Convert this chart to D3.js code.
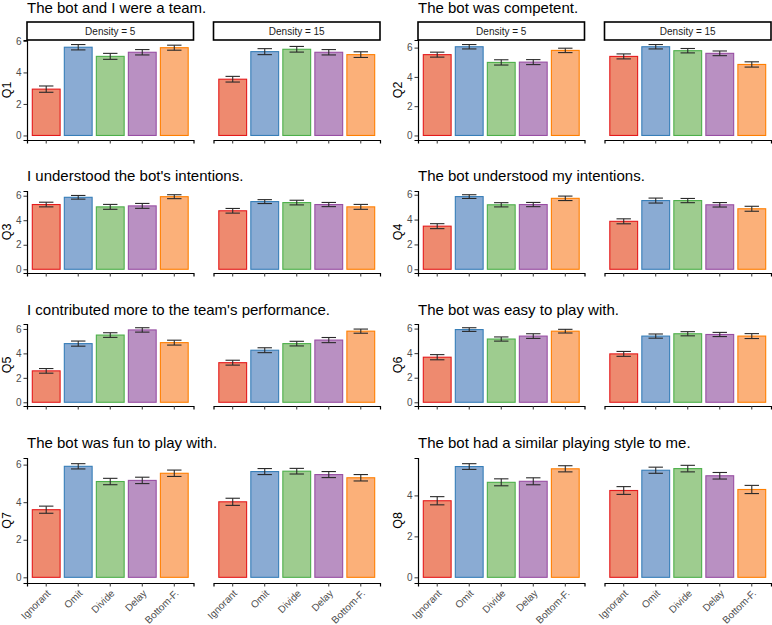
<!DOCTYPE html>
<html>
<head>
<meta charset="utf-8">
<script src="https://cdn.jsdelivr.net/npm/d3@7"></script>
<style>
  body { margin: 0; background: #fff; }
  svg { display: block; font-family: "Liberation Sans", Arial, sans-serif; }
  .axis path, .axis line { stroke: #000; }
  .axis line { stroke: #333; }
  .axis text { fill: #4d4d4d; font-size: 10px; font-family: "Liberation Sans", Arial, sans-serif; }
</style>
</head>
<body>
<div id="chart"></div>
<script>
// categories and facets
const categories = ["Ignorant", "Omit", "Divide", "Delay", "Bottom-F."];
const densities = [5, 15];
const questionLabels = ["Q1", "Q2", "Q3", "Q4", "Q5", "Q6", "Q7", "Q8"];
const questionTitles = [
    "The bot and I were a team.",
    "The bot was competent.",
    "I understood the bot's intentions.",
    "The bot understood my intentions.",
    "I contributed more to the team's performance.",
    "The bot was easy to play with.",
    "The bot was fun to play with.",
    "The bot had a similar playing style to me."
];

// mean scores, one row per question (Ignorant, Omit, Divide, Delay, Bottom-F.)
const meanD5 = [
    [2.94, 5.60, 5.02, 5.28, 5.57],
    [5.52, 6.06, 4.99, 5.01, 5.81],
    [5.28, 5.87, 5.09, 5.17, 5.92],
    [3.47, 5.85, 5.19, 5.21, 5.71],
    [2.57, 4.80, 5.50, 5.92, 4.88],
    [3.67, 5.92, 5.15, 5.39, 5.79],
    [3.60, 5.91, 5.10, 5.16, 5.54],
    [3.74, 5.41, 4.64, 4.69, 5.30]
];
const seD5 = [
    [0.20, 0.17, 0.19, 0.17, 0.16],
    [0.17, 0.15, 0.18, 0.17, 0.15],
    [0.19, 0.15, 0.20, 0.20, 0.16],
    [0.20, 0.15, 0.17, 0.17, 0.18],
    [0.19, 0.21, 0.19, 0.18, 0.20],
    [0.21, 0.15, 0.17, 0.19, 0.15],
    [0.19, 0.14, 0.17, 0.17, 0.17],
    [0.20, 0.14, 0.17, 0.17, 0.15]
];
const meanD15 = [
    [3.57, 5.32, 5.47, 5.28, 5.13],
    [5.40, 6.06, 5.79, 5.61, 4.85],
    [4.77, 5.52, 5.44, 5.28, 5.09],
    [3.86, 5.53, 5.53, 5.19, 4.87],
    [3.24, 4.26, 4.80, 5.09, 5.82],
    [3.94, 5.39, 5.58, 5.52, 5.39],
    [4.02, 5.63, 5.65, 5.47, 5.30],
    [4.24, 5.23, 5.31, 4.96, 4.29]
];
const seD15 = [
    [0.18, 0.19, 0.18, 0.17, 0.18],
    [0.17, 0.15, 0.15, 0.16, 0.18],
    [0.19, 0.16, 0.19, 0.17, 0.20],
    [0.20, 0.20, 0.17, 0.18, 0.20],
    [0.20, 0.20, 0.19, 0.21, 0.17],
    [0.20, 0.17, 0.17, 0.17, 0.20],
    [0.19, 0.16, 0.15, 0.16, 0.17],
    [0.19, 0.15, 0.16, 0.16, 0.20]
];

const yTicks = [0, 2, 4, 6];
const fillColors = ["#ee8a6f", "#8aabd3", "#9ecc8f", "#b990c2", "#fbb079"];
const strokeColors = ["#e41a1c", "#377eb8", "#4daf4a", "#984ea3", "#ff7f00"];

// layout of the 4 x 2 grid of plots
const W = 772, H = 625;
const colX = [27, 418];
const panelW = 166.5, facetGap = 20;
const rows = [
    { title: 13, top: 40, bottom: 140 },
    { title: 181, top: 191, bottom: 273 },
    { title: 315, top: 324, bottom: 406 },
    { title: 448, top: 458, bottom: 583 }
];

const svg = d3.select("#chart").append("svg")
    .attr("width", W)
    .attr("height", H);

const color = d3.scaleOrdinal().domain(categories).range(fillColors);
const outline = d3.scaleOrdinal().domain(categories).range(strokeColors);

questionLabels.forEach((q, qi) => {
    const ri = Math.floor(qi / 2);
    const row = rows[ri];
    const x0 = colX[qi % 2];
    const isBottom = ri === rows.length - 1;

    const facets = densities.map((dens, fi) => ({
        density: dens,
        values: categories.map((c, ci) => ({
            cat: c,
            mean: fi === 0 ? meanD5[qi][ci] : meanD15[qi][ci],
            se: fi === 0 ? seD5[qi][ci] : seD15[qi][ci]
        }))
    }));

    // y scale with ggplot-like 5% expansion
    const maxV = d3.max(facets, f => d3.max(f.values, d => d.mean + d.se));
    const y = d3.scaleLinear()
        .domain([-0.05 * maxV, maxV * 1.05])
        .range([row.bottom, row.top]);

    const g = svg.append("g");

    // plot title
    g.append("text")
        .attr("x", x0)
        .attr("y", row.title)
        .attr("font-size", 15)
        .attr("fill", "#000")
        .text(questionTitles[qi]);

    // y axis title
    g.append("text")
        .attr("transform", `translate(${x0 - 16.5},${(row.top + row.bottom) / 2}) rotate(-90)`)
        .attr("text-anchor", "middle")
        .attr("font-size", 12.5)
        .attr("fill", "#000")
        .text(q);

    facets.forEach((f, fi) => {
        const px = x0 + fi * (panelW + facetGap);
        const x = d3.scaleBand()
            .domain(categories)
            .range([px, px + panelW])
            .paddingInner(0.1)
            .paddingOuter(0.15);

        // strip on the first row only
        if (ri === 0) {
            g.append("rect")
                .attr("x", px)
                .attr("y", 22)
                .attr("width", panelW)
                .attr("height", 18)
                .attr("fill", "#fff")
                .attr("stroke", "#000")
                .attr("stroke-width", 1.6);
            g.append("text")
                .attr("x", px + panelW / 2)
                .attr("y", 31)
                .attr("text-anchor", "middle")
                .attr("dominant-baseline", "central")
                .attr("font-size", 10)
                .attr("fill", "#1a1a1a")
                .text(`Density = ${f.density}`);
        }

        // bars
        g.selectAll(null)
            .data(f.values)
            .enter()
            .append("rect")
            .attr("x", d => x(d.cat) + 0.5)
            .attr("width", x.bandwidth() - 1)
            .attr("y", d => y(d.mean))
            .attr("height", d => y(0) - y(d.mean))
            .attr("fill", d => color(d.cat))
            .attr("stroke", d => outline(d.cat))
            .attr("stroke-width", 1.1);

        // error bars
        const capW = x.step() * 0.45;
        const eb = g.selectAll(null)
            .data(f.values)
            .enter()
            .append("g")
            .attr("stroke", "#2a2a2a")
            .attr("stroke-width", 1.1)
            .attr("fill", "none");
        eb.append("line")
            .attr("x1", d => x(d.cat) + x.bandwidth() / 2)
            .attr("x2", d => x(d.cat) + x.bandwidth() / 2)
            .attr("y1", d => y(d.mean - d.se))
            .attr("y2", d => y(d.mean + d.se));
        eb.append("line")
            .attr("x1", d => x(d.cat) + x.bandwidth() / 2 - capW / 2)
            .attr("x2", d => x(d.cat) + x.bandwidth() / 2 + capW / 2)
            .attr("y1", d => y(d.mean - d.se))
            .attr("y2", d => y(d.mean - d.se));
        eb.append("line")
            .attr("x1", d => x(d.cat) + x.bandwidth() / 2 - capW / 2)
            .attr("x2", d => x(d.cat) + x.bandwidth() / 2 + capW / 2)
            .attr("y1", d => y(d.mean + d.se))
            .attr("y2", d => y(d.mean + d.se));

        // x axis
        const xAxis = g.append("g")
            .attr("class", "axis")
            .attr("transform", `translate(0,${row.bottom})`)
            .call(d3.axisBottom(x).tickSizeOuter(0).tickSize(3.5));
        xAxis.select(".domain").attr("stroke-width", 1.2);
        if (isBottom) {
            xAxis.selectAll(".tick text")
                .attr("text-anchor", "end")
                .attr("dy", null)
                .attr("y", null)
                .attr("transform", "translate(5,11) rotate(-45)");
        } else {
            xAxis.selectAll(".tick text").remove();
        }

        // y axis on the left facet only
        if (fi === 0) {
            const yAxis = g.append("g")
                .attr("class", "axis")
                .attr("transform", `translate(${px},0)`)
                .call(d3.axisLeft(y)
                    .tickValues(yTicks.filter(t => t <= y.domain()[1]))
                    .tickFormat(d3.format("d"))
                    .tickSizeOuter(0)
                    .tickSize(3.5)
                    .tickPadding(2));
            yAxis.select(".domain").attr("stroke-width", 1.2);
        }
    });
});
</script>
</body>
</html>
